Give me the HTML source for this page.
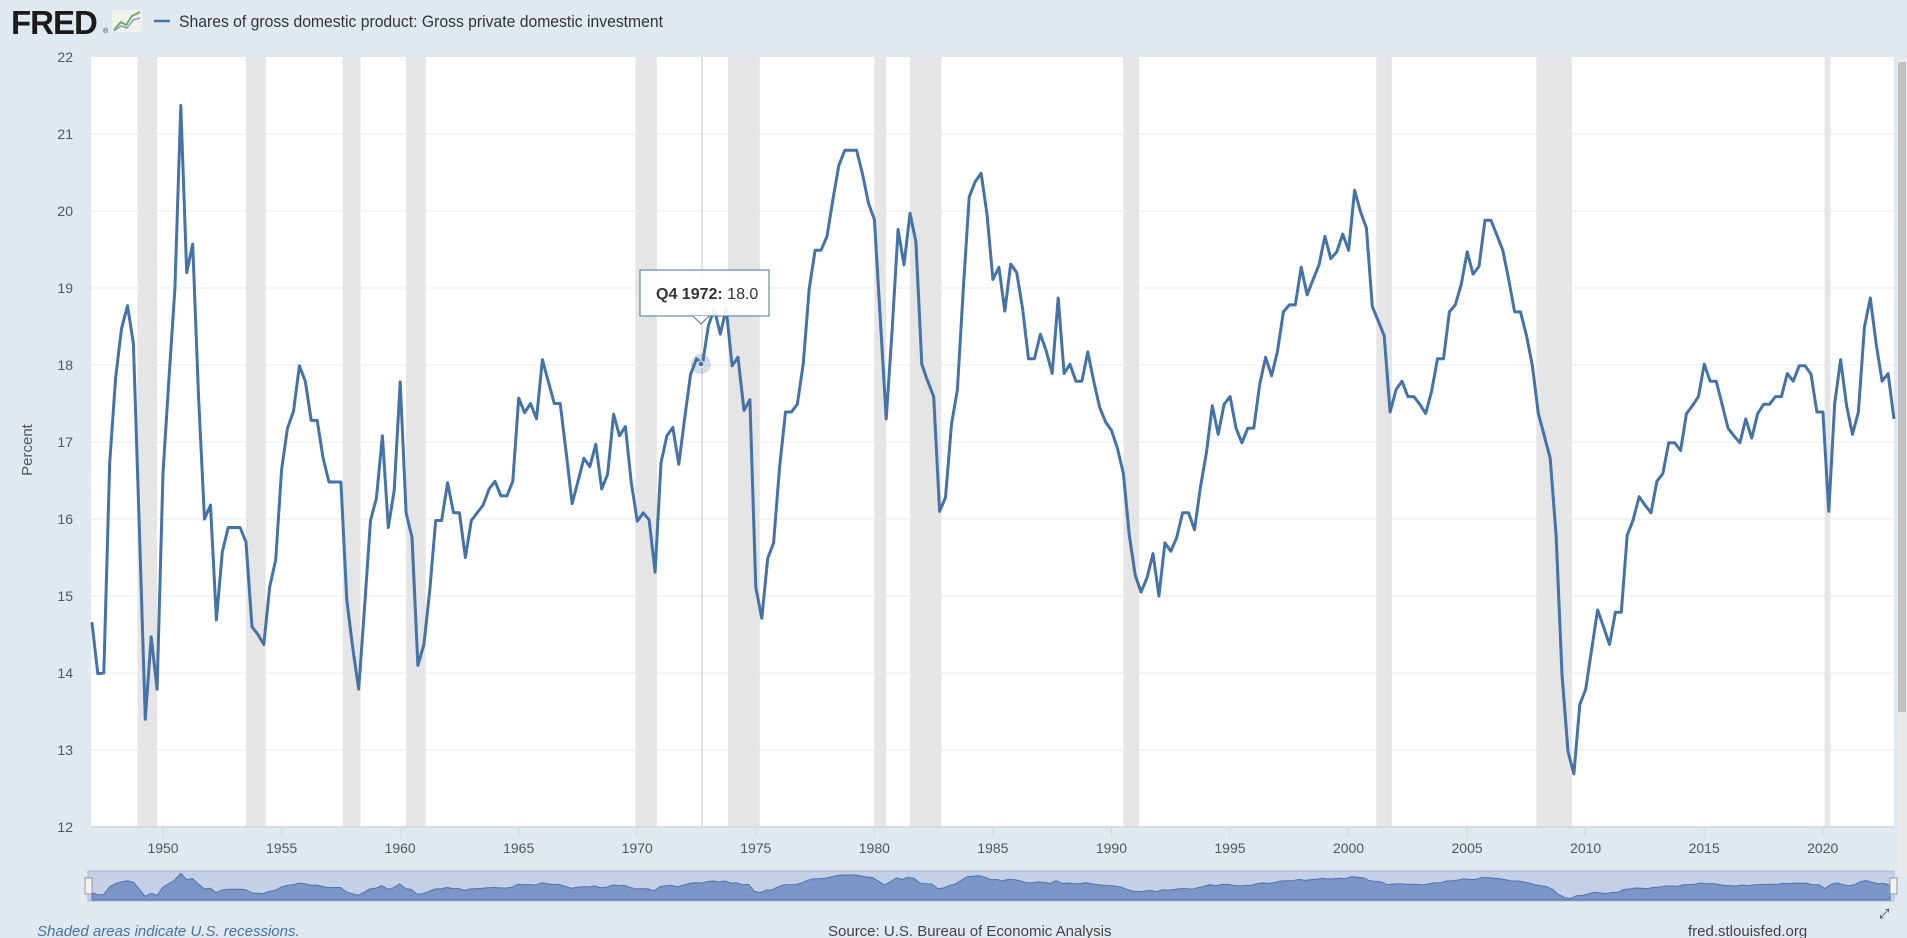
<!DOCTYPE html>
<html><head><meta charset="utf-8"><style>
html,body{margin:0;padding:0;background:#e1e9f0;width:1907px;height:938px;overflow:hidden;font-family:"Liberation Sans",sans-serif;}
svg{position:absolute;left:0;top:0}
</style></head><body>
<svg id="s" width="1907" height="938" xmlns="http://www.w3.org/2000/svg">
<text x="11" y="34" font-family="Liberation Sans" font-weight="bold" font-size="33" fill="#1b1b1b" letter-spacing="-1">FRED</text>
<text x="103" y="33" font-size="7" fill="#333">®</text>
<g transform="translate(112,10)"><rect width="30" height="22" fill="#eef2ea"/><polyline points="2,20 9,12 14,15 20,6 28,2" fill="none" stroke="#7aa66a" stroke-width="2"/><polyline points="2,21 9,16 15,18 21,10 28,8" fill="none" stroke="#8aa0c8" stroke-width="1.5"/></g>
<line x1="154" y1="21" x2="170" y2="21" stroke="#4572a7" stroke-width="2.5"/>
<text x="179" y="27" font-size="17" fill="#333" textLength="484" lengthAdjust="spacingAndGlyphs">Shares of gross domestic product: Gross private domestic investment</text>
<rect x="91" y="57" width="1803" height="770" fill="#fff"/>
<g id="rec"></g><g id="grid"></g>
<line x1="702" y1="57" x2="702" y2="827" stroke="#c8c8c8" stroke-width="1"/>
<polyline id="ln" fill="none" stroke="#4572a7" stroke-width="3" stroke-linejoin="round"/>
<circle cx="701" cy="364" r="10" fill="#4572a7" fill-opacity="0.25"/>
<circle cx="701" cy="364" r="3" fill="#4572a7" stroke="#fff" stroke-width="1"/>
<g id="lab"></g>
<text transform="translate(32,450) rotate(-90)" text-anchor="middle" font-size="15" fill="#555">Percent</text>
<rect x="640" y="270" width="129" height="46" fill="#fff" fill-opacity="0.9" stroke="#4572a7" stroke-width="1"/>
<path d="M693,316 L701,324 L709,316" fill="#fff" stroke="#4572a7"/>
<text x="656" y="299" font-size="16" fill="#333"><tspan font-weight="bold">Q4 1972:</tspan> 18.0</text>
<rect x="88" y="871" width="1806" height="30" fill="#c3d0e6" stroke="#aab8d2"/>
<path id="nav" fill="#7b96c6" stroke="#4f74b0" stroke-width="1"/>
<rect x="85" y="878" width="7" height="16" fill="#f2f2f2" stroke="#999"/>
<rect x="1890" y="878" width="7" height="16" fill="#f2f2f2" stroke="#999"/>
<rect x="1897" y="57" width="10" height="820" fill="#e9e9e9"/>
<rect x="1898" y="62" width="8" height="650" fill="#c1c1c1"/>
<text x="1879" y="918" font-size="13" fill="#333">⤢</text>
<text x="37" y="936" font-size="15" font-style="italic" fill="#4572a7">Shaded areas indicate U.S. recessions.</text>
<text x="828" y="936" font-size="15" fill="#444">Source: U.S. Bureau of Economic Analysis</text>
<text x="1688" y="936" font-size="15" fill="#444">fred.stlouisfed.org</text>
</svg>
<script>
var d=[14.66,13.99,14.0,16.73,17.83,18.47,18.77,18.28,15.89,13.4,14.47,13.79,16.6,17.83,18.99,21.37,19.2,19.57,17.57,16.0,16.18,14.69,15.57,15.89,15.89,15.89,15.7,14.6,14.5,14.37,15.12,15.47,16.64,17.18,17.4,17.99,17.79,17.28,17.28,16.79,16.48,16.48,16.48,14.95,14.33,13.79,14.86,15.98,16.27,17.08,15.89,16.37,17.78,16.08,15.76,14.1,14.37,15.08,15.98,15.98,16.47,16.08,16.08,15.5,15.98,16.08,16.18,16.39,16.49,16.3,16.3,16.49,17.57,17.38,17.5,17.3,18.07,17.78,17.5,17.5,16.87,16.2,16.49,16.79,16.68,16.97,16.39,16.58,17.36,17.08,17.2,16.47,15.97,16.08,
15.99,15.31,16.73,17.08,17.19,16.71,17.31,17.88,18.08,18.01,18.51,18.73,18.4,18.73,17.99,18.1,17.41,17.55,15.11,14.71,15.49,15.69,16.66,17.39,17.39,17.49,18.02,18.99,19.49,19.49,19.67,20.15,20.59,20.79,20.79,20.79,20.48,20.1,19.89,18.6,17.3,18.47,19.76,19.3,19.97,19.6,18.01,17.79,17.59,16.1,16.28,17.23,17.68,18.99,20.18,20.38,20.49,19.96,19.11,19.27,18.7,19.31,19.2,18.73,18.08,18.08,18.4,18.18,17.89,18.87,17.89,18.01,17.79,17.79,18.17,17.79,17.45,17.26,17.15,16.92,16.59,15.79,15.27,15.05,15.24,15.55,15.0,15.69,15.58,15.76,16.08,16.08,
15.86,16.41,16.86,17.47,17.1,17.49,17.59,17.18,16.99,17.18,17.18,17.75,18.1,17.86,18.18,18.69,18.78,18.78,19.27,18.91,19.11,19.3,19.67,19.38,19.47,19.7,19.49,20.27,19.99,19.78,18.76,18.57,18.38,17.39,17.68,17.79,17.59,17.59,17.49,17.37,17.66,18.08,18.08,18.69,18.78,19.05,19.47,19.18,19.28,19.88,19.88,19.69,19.49,19.11,18.69,18.69,18.38,17.99,17.37,17.08,16.79,15.79,13.98,12.98,12.69,13.59,13.79,14.31,14.82,14.6,14.37,14.79,14.79,15.79,15.99,16.29,16.18,16.08,16.49,16.59,16.99,16.99,16.89,17.37,17.47,17.59,18.01,17.79,17.79,17.49,17.18,17.08,16.99,17.3,17.05,17.37,17.49,17.49,17.59,17.59,17.89,17.79,17.99,17.99,17.88,17.39,17.39,16.1,17.5,18.07,17.47,17.1,17.39,18.49,18.87,18.27,17.79,17.89,17.3];
var NS="http://www.w3.org/2000/svg";
function el(p,t,a,txt){var e=document.createElementNS(NS,t);for(var k in a)e.setAttribute(k,a[k]);if(txt)e.textContent=txt;p.appendChild(e);return e;}
var X0=91.9,X1=1894,n=d.length,st=(X1-X0)/(n-1);
function Y(v){return 827-(v-12)*77;}
var pts=d.map(function(v,i){return (X0+i*st).toFixed(1)+","+Y(v).toFixed(1)}).join(" ");
document.getElementById("ln").setAttribute("points",pts);
var rec=[[1948.92,1949.75],[1953.5,1954.33],[1957.58,1958.33],[1960.25,1961.08],[1969.92,1970.83],[1973.83,1975.17],[1980,1980.5],[1981.5,1982.83],[1990.5,1991.17],[2001.17,2001.83],[2007.92,2009.42],[2020.08,2020.33]];
function XY(y){return 91.9+(y-1947)*23.71;}
var g=document.getElementById("rec");
rec.forEach(function(r){el(g,"rect",{x:XY(r[0]),y:57,width:XY(r[1])-XY(r[0]),height:770,fill:"#e5e5e5"});});
var gr=document.getElementById("grid"),lb=document.getElementById("lab");
for(var v=12;v<=22;v++){var y=Y(v);if(v>12&&v<22)el(gr,"line",{x1:91,x2:1894,y1:y,y2:y,stroke:"#e8e8e8","stroke-width":1});
el(lb,"text",{x:73,y:y+5,"text-anchor":"end","font-size":"14",fill:"#555"},String(v));}
el(gr,"line",{x1:91,x2:1894,y1:827,y2:827,stroke:"#ccd6eb","stroke-width":1.5});
for(var yr=1950;yr<=2020;yr+=5){var x=XY(yr);el(lb,"text",{x:x,y:853,"text-anchor":"middle","font-size":"14",fill:"#555"},String(yr));
el(gr,"line",{x1:x,x2:x,y1:827,y2:837,stroke:"#ccd6eb"});}
var nx0=92,nx1=1890,ns=(nx1-nx0)/(n-1),p="M"+nx0+",900";
d.forEach(function(v,i){p+=" L"+(nx0+i*ns).toFixed(1)+","+(899-(v-12.5)*2.9).toFixed(1);});
p+=" L"+nx1+",900 Z";document.getElementById("nav").setAttribute("d",p);
</script>
</body></html>
